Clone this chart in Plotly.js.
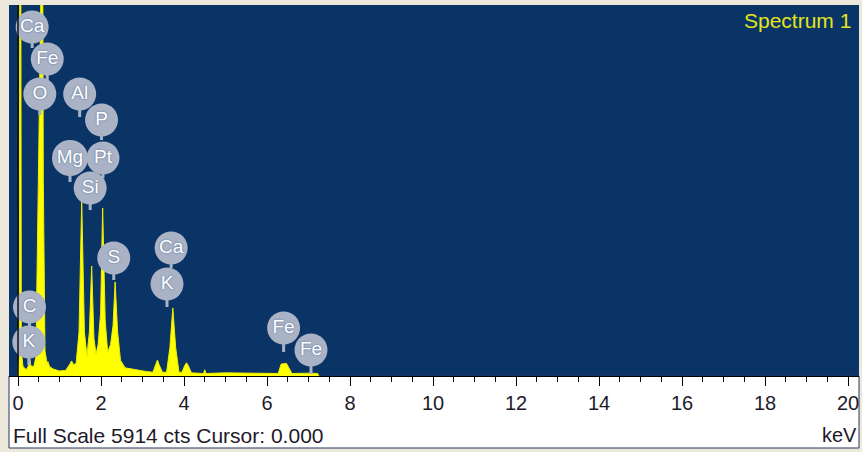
<!DOCTYPE html>
<html>
<head>
<meta charset="utf-8">
<script src="https://cdn.plot.ly/plotly-3.0.1.min.js"></script>
<style>
  html, body { margin: 0; padding: 0; background: #ece8dc; }
  #chart { width: 862px; height: 452px; }
</style>
</head>
<body>
<div id="chart"></div>
<script>
// ---- Spectrum data ----
const energyKeV = [
  0.00, 0.03, 0.045, 0.065, 0.08, 0.12, 0.20, 0.25, 0.28, 0.31, 0.38, 0.43,
  0.49, 0.53, 0.59, 0.61, 0.65, 0.70, 0.72, 0.76, 0.85, 1.00, 1.15, 1.24,
  1.29, 1.34, 1.40, 1.47, 1.535, 1.60, 1.66, 1.72, 1.775, 1.83, 1.88, 1.93,
  1.99, 2.04, 2.10, 2.16, 2.23, 2.29, 2.34, 2.40, 2.47, 2.58, 2.80, 3.10,
  3.25, 3.32, 3.36, 3.40, 3.48, 3.58, 3.66, 3.73, 3.80, 3.88, 3.95, 4.02,
  4.06, 4.10, 4.18, 4.47, 4.50, 4.53, 5.00, 6.27, 6.34, 6.47, 6.60, 7.00,
  7.22, 7.25
];
const counts = [
  0, 300, 8000, 8000, 400, 150, 100, 160, 300, 160, 150, 300,
  3100, 8000, 8000, 3100, 400, 200, 230, 150, 110, 80, 90, 180,
  240, 180, 200, 700, 2806, 700, 320, 700, 1753, 600, 350, 500,
  1000, 2678, 900, 380, 500, 800, 1500, 700, 250, 130, 100, 70,
  60, 180, 255, 180, 60, 60, 450, 1085, 450, 60, 60, 170,
  210, 170, 50, 40, 100, 40, 50, 40, 190, 200, 40, 45,
  40, 0
];

// ---- Element marker badges ----
const badgeLabels = ['Ca', 'Fe', 'O', 'Al', 'P', 'Mg', 'Pt', 'Si', 'S', 'Ca', 'K', 'Fe', 'Fe', 'C', 'K'];
const badgeKeV    = [0.341, 0.705, 0.525, 1.486, 2.013, 1.253, 2.048, 1.739, 2.307, 3.69, 3.59, 6.40, 7.06, 0.277, 0.26];
const badgeCounts = [5563, 5053, 4495, 4495, 4081, 3475, 3475, 2997, 1881, 2040, 1467, 765, 414, 1100, 542];
const pinCounts   = [5228, 4718, 4160, 4128, 3762, 3092, 3156, 2646, 1530, 1722, 1100, 383, 32, 765, 175];

// ---- Axis / text ----
const tickVals = [0, 2, 4, 6, 8, 10, 12, 14, 16, 18, 20];
const tickText = ['0', '2', '4', '6', '8', '10', '12', '14', '16', '18', '20'];
const fullScaleCts = 5914;
const cursorKeV = 0.000;
const spectrumName = 'Spectrum 1';
const unitLabel = 'keV';

const plotTop = 5, plotBottom = 376, plotH = plotBottom - plotTop;
const badgeDiam = 33;
const badgeRadiusCts = (badgeDiam / 2 - 1) * fullScaleCts / plotH;

// pins as one line trace with gaps, starting at the badge rim
const pinX = [], pinY = [];
badgeKeV.forEach((k, i) => {
  pinX.push(k, k, null);
  pinY.push(badgeCounts[i] - badgeRadiusCts, pinCounts[i], null);
});

const traces = [
  {
    type: 'scatter', mode: 'lines', x: energyKeV, y: counts,
    fill: 'tozeroy', fillcolor: '#ffff00',
    line: { color: '#eeee00', width: 1 },
    hoverinfo: 'skip', showlegend: false
  },
  {
    type: 'scatter', mode: 'lines', x: pinX, y: pinY,
    line: { color: '#a9b3c5', width: 3 },
    hoverinfo: 'skip', showlegend: false, connectgaps: false
  },
  {
    type: 'scatter', mode: 'markers+text', x: badgeKeV, y: badgeCounts,
    text: badgeLabels, textposition: 'middle center',
    marker: { size: badgeLabels.map(t => t === 'Mg' ? badgeDiam + 3 : badgeDiam), color: '#a9b3c5', opacity: 1, line: { width: 0 } },
    textfont: { family: 'Liberation Sans, Arial, sans-serif', size: 19, color: '#ffffff', shadow: '0px 0px 2px #4d6690' },
    hoverinfo: 'skip', showlegend: false, cliponaxis: false
  }
];

const layout = {
  width: 862, height: 452,
  margin: { l: 9, r: 3, t: 5, b: 76, pad: 0 },
  paper_bgcolor: '#ece8dc',
  plot_bgcolor: '#0a3466',
  showlegend: false,
  xaxis: {
    range: [-0.217, 20.265],
    tickmode: 'array', tickvals: tickVals, ticktext: tickText,
    ticks: 'outside', ticklen: 9, tickwidth: 1, tickcolor: '#000',
    showline: true, linecolor: '#000', linewidth: 1,
    showgrid: false, zeroline: false,
    tickfont: { family: 'Liberation Sans, Arial, sans-serif', size: 20, color: '#1e1a2a' },
    minor: { dtick: 0.5, tick0: 0, ticks: 'outside', ticklen: 5, tickwidth: 1, tickcolor: '#000', showgrid: false },
    fixedrange: true
  },
  yaxis: { range: [0, fullScaleCts], visible: false, fixedrange: true },
  shapes: [
    {
      type: 'rect', xref: 'paper', yref: 'paper', layer: 'below',
      x0: 0, x1: 1, y0: -(448 - plotBottom) / plotH, y1: 0,
      fillcolor: '#ffffff', line: { color: '#24375a', width: 1 }
    },
    {
      type: 'line', xref: 'x', yref: 'paper', x0: cursorKeV, x1: cursorKeV, y0: 0, y1: 1,
      line: { color: '#111111', width: 1.5 }
    }
  ],
  annotations: [
    {
      xref: 'paper', yref: 'paper', x: (853 - 9) / 850, y: 1 - (21 - plotTop) / plotH,
      xanchor: 'right', yanchor: 'middle', showarrow: false,
      text: spectrumName,
      font: { family: 'Liberation Sans, Arial, sans-serif', size: 21, color: '#e4e41c' }
    },
    {
      xref: 'paper', yref: 'paper', x: (11 - 9) / 850, y: -(435 - plotBottom) / plotH,
      xanchor: 'left', yanchor: 'middle', showarrow: false,
      text: 'Full Scale ' + fullScaleCts + ' cts Cursor: ' + cursorKeV.toFixed(3),
      font: { family: 'Liberation Sans, Arial, sans-serif', size: 21, color: '#1e1a2a' }
    },
    {
      xref: 'paper', yref: 'paper', x: 1, y: -(435 - plotBottom) / plotH,
      xanchor: 'right', yanchor: 'middle', showarrow: false,
      text: unitLabel,
      font: { family: 'Liberation Sans, Arial, sans-serif', size: 20, color: '#1e1a2a' }
    }
  ]
};

Plotly.newPlot('chart', traces, layout, { displayModeBar: false, staticPlot: true });
</script>
</body>
</html>
